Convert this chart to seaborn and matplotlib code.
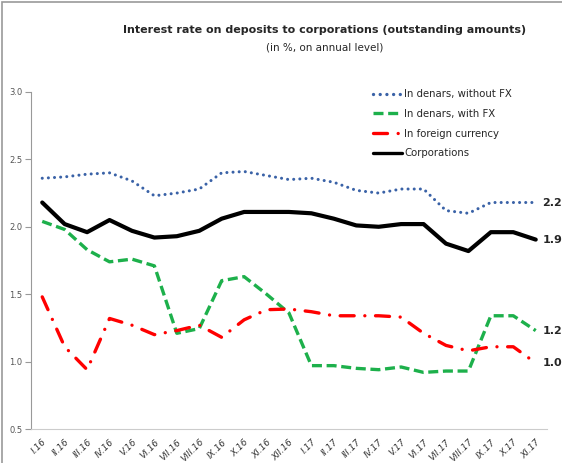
import numpy as np
import pandas as pd
import matplotlib
matplotlib.use("Agg")
import matplotlib.pyplot as plt
import seaborn as sns

# ── Data ──────────────────────────────────────────────────────────────────
months = ["I.16", "II.16", "III.16", "IV.16", "V.16", "VI.16", "VII.16", "VIII.16",
          "IX.16", "X.16", "XI.16", "XII.16", "I.17", "II.17", "III.17", "IV.17",
          "V.17", "VI.17", "VII.17", "VIII.17", "IX.17", "X.17", "XI.17"]
denars_no_fx = [2.36, 2.37, 2.39, 2.40, 2.34, 2.23, 2.25, 2.28, 2.40, 2.41, 2.38, 2.35,
                2.36, 2.33, 2.27, 2.25, 2.28, 2.28, 2.12, 2.10, 2.18, 2.18, 2.18]
denars_fx = [2.04, 1.98, 1.83, 1.74, 1.76, 1.71, 1.21, 1.245, 1.60, 1.63, 1.50, 1.36,
             0.97, 0.97, 0.95, 0.94, 0.96, 0.92, 0.93, 0.93, 1.34, 1.34, 1.23]
foreign = [1.48, 1.11, 0.94, 1.32, 1.27, 1.20, 1.23, 1.27, 1.18, 1.31, 1.385, 1.39,
           1.37, 1.34, 1.34, 1.34, 1.33, 1.21, 1.12, 1.08, 1.11, 1.11, 0.99]
corporations = [2.18, 2.02, 1.96, 2.05, 1.97, 1.92, 1.93, 1.97, 2.06, 2.11, 2.11, 2.11,
                2.10, 2.06, 2.01, 2.00, 2.02, 2.02, 1.875, 1.82, 1.96, 1.96, 1.905]
series_names = ["In denars, without FX", "In denars, with FX",
                "In foreign currency", "Corporations"]
end_labels = ["2.2", "1.2", "1.0", "1.9"]

df = pd.DataFrame({"month": months * 4,
                   "series": np.repeat(series_names, len(months)),
                   "value": denars_no_fx + denars_fx + foreign + corporations})

sns.set_style("white")
plt.rcParams["font.family"] = ["DejaVu Sans"]

fig = plt.figure(figsize=(5.62, 4.63), dpi=100)
ax = fig.add_axes([0.0552, 0.0734, 0.918, 0.728])

styles = {
    "In denars, without FX": dict(color="#3A62A7", dashes=(0.01, 2.0), lw=2.2, cap="round"),
    "In denars, with FX": dict(color="#1DB04B", dashes=(3.0, 1.4), lw=2.4, cap="butt"),
    "In foreign currency": dict(color="#FF0000", dashes=(4.2, 3.2, 0.01, 3.2), lw=2.4, cap="round"),
    "Corporations": dict(color="#000000", dashes=None, lw=3.0, cap="butt"),
}
for name in series_names:
    st = styles[name]
    sns.lineplot(data=df[df["series"] == name], x="month", y="value", sort=False,
                 ax=ax, color=st["color"], linewidth=st["lw"], label=name)
    line = ax.lines[-1]
    if st["dashes"] is not None:
        line.set_linestyle((0, st["dashes"]))
        line.set_dash_capstyle(st["cap"])

# end-of-series value labels
last = [denars_no_fx[-1], denars_fx[-1], foreign[-1], corporations[-1]]
for v, lab in zip(last, end_labels):
    ax.text(len(months) - 1 + 0.3, v, lab, fontsize=8, fontweight="bold",
            va="center", ha="left", clip_on=False)

ax.set_ylim(0.5, 3.0)
ax.set_yticks([0.5, 1.0, 1.5, 2.0, 2.5, 3.0])
ax.set_yticklabels([f"{t:.1f}" for t in ax.get_yticks()], fontsize=6, color="#555555")
ax.set_xlim(-0.5, len(months) - 0.5)
ax.set_xticks(range(len(months)))
ax.set_xticklabels(months, rotation=45, ha="right", rotation_mode="anchor",
                   fontsize=6.5, color="#333333", style="italic")
ax.set_xticks(np.arange(-0.5, len(months), 1), minor=True)
ax.tick_params(axis="x", which="major", length=0, pad=6)
ax.tick_params(axis="x", which="minor", length=4, color="#bbbbbb", direction="out")
ax.tick_params(axis="y", length=4, color="#999999", direction="out", pad=2, left=True)
ax.set_xlabel(""); ax.set_ylabel("")
for s in ["top", "right"]:
    ax.spines[s].set_visible(False)
ax.spines["left"].set_color("#999999")
ax.spines["bottom"].set_color("#cccccc")

leg = ax.legend(loc="upper left", bbox_to_anchor=(0.645, 1.035), frameon=False,
                fontsize=7.3, handlelength=2.9, labelspacing=0.95, handletextpad=0.2)
for h in leg.get_lines():
    h.set_linewidth(2.4)

fig.text(0.578, 0.928, "Interest rate on deposits to corporations (outstanding amounts)",
         ha="center", fontsize=8, fontweight="bold")
fig.text(0.578, 0.890, "(in %, on annual level)", ha="center", fontsize=7.5)

# gray frame (top and left edges visible, right/bottom run off the picture)
fig.patches.append(plt.Rectangle((0.004, -0.01), 1.05, 1.005, transform=fig.transFigure,
                                 fill=False, edgecolor="#999999", linewidth=1.2))

plt.savefig("out.png", dpi=100)
plt.close()
